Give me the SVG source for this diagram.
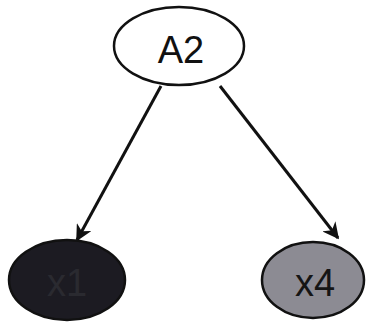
<svg xmlns="http://www.w3.org/2000/svg" width="368" height="324" viewBox="0 0 368 324">
<defs>
<style>
.node{stroke:#111;stroke-width:2.5}
.lbl{font-family:"Liberation Sans",Arial,sans-serif;font-size:38px;text-anchor:middle;dominant-baseline:central}
.edge{stroke:#111;stroke-width:3;fill:none}
</style>
<marker id="arr" viewBox="0 0 10 10" refX="9" refY="5" markerWidth="5.5" markerHeight="5.5" orient="auto" markerUnits="strokeWidth">
<path d="M0,0 L10,5 L0,10 L3,5 z" fill="#111"/>
</marker>
</defs>
<rect width="368" height="324" fill="#fff"/>
<g id="edges">
<line class="edge" x1="161" y1="86" x2="77" y2="240" marker-end="url(#arr)"/>
<line class="edge" x1="220" y1="86" x2="338" y2="238" marker-end="url(#arr)"/>
</g>
<g id="A2">
<ellipse class="node" cx="179" cy="46" rx="65" ry="39" fill="#fff"/>
<text class="lbl" x="181" y="50" fill="#111">A2</text>
</g>
<g id="x1">
<ellipse class="node" cx="67" cy="280" rx="58" ry="40" fill="#1c1b22"/>
<text class="lbl" x="67" y="283" fill="#2a2a30">x1</text>
</g>
<g id="x4">
<ellipse class="node" cx="313" cy="280" rx="51" ry="38" fill="#8c8b93"/>
<text class="lbl" x="315" y="283" fill="#151515">x4</text>
</g>
</svg>
